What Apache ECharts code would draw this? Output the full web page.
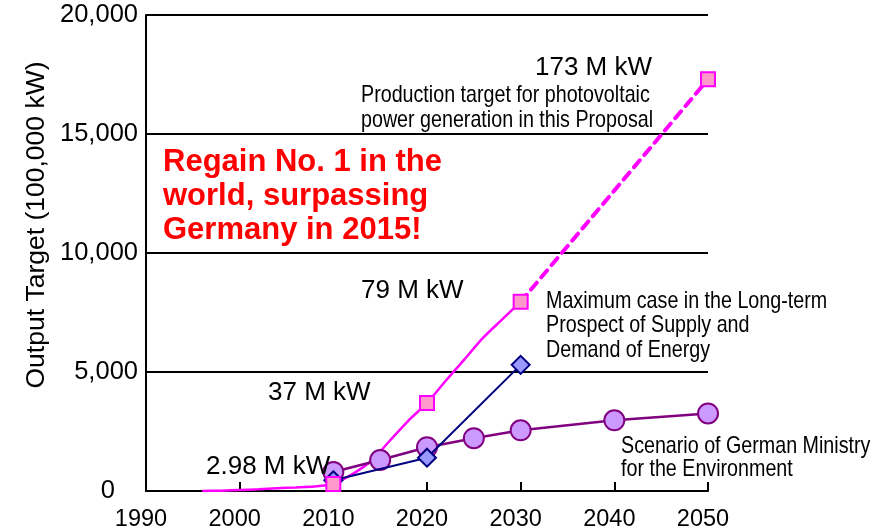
<!DOCTYPE html>
<html>
<head>
<meta charset="utf-8">
<script src="https://cdn.jsdelivr.net/npm/echarts@6.0.0/dist/echarts.min.js"></script>
<style>
  html, body { margin: 0; padding: 0; background: #fff; }
  #chart { width: 886px; height: 532px; }
</style>
</head>
<body>
<div id="chart"></div>
<script>
// x ticks / y ticks
const yearMin = 1990
const yearMax = 2050
const yearStep = 10
const outputMin = 0
const outputMax = 20000
const outputStep = 5000

// PV production target in this proposal (solid part, up to 2030)
const pvYears = [1996, 1998, 2000, 2002, 2004, 2006, 2008, 2009, 2010, 2012, 2014, 2016, 2018, 2020, 2022, 2024, 2026, 2028, 2030]
const pvValues = [0, 15, 40, 70, 115, 150, 190, 230, 298, 700, 1250, 2100, 2950, 3700, 4630, 5530, 6440, 7200, 7950]
// dashed extension 2030 -> 2050
const pvTargetYears = [2030, 2050]
const pvTargetValues = [7950, 17300]
// square markers
const pvMarkYears = [2010, 2020, 2030, 2050]
const pvMarkValues = [298, 3700, 7950, 17300]

// Maximum case, Long-term Prospect of Supply and Demand of Energy
const maxCaseYears = [2010, 2020, 2030]
const maxCaseValues = [450, 1400, 5300]

// Scenario of German Ministry for the Environment
const germanYears = [2010, 2015, 2020, 2025, 2030, 2040, 2050]
const germanValues = [800, 1300, 1840, 2220, 2550, 2970, 3260]

const pairs = (xs, ys) => xs.map((x, i) => [x, ys[i]])

const baseFont = 'Liberation Sans, Arial, sans-serif'
// no narrow face installed, so the condensed notes are squeezed with scaleX
const narrowScale = 0.82

const chart = echarts.init(document.getElementById('chart'))

const label = (text, x, y, opts = {}, extra = {}) => Object.assign({
  type: 'text',
  x: x,
  y: y,
  z: 100,
  style: Object.assign({
    text: text,
    fill: '#000',
    fontSize: 26,
    fontFamily: baseFont,
    textAlign: 'left',
    textVerticalAlign: 'middle'
  }, opts)
}, extra)

const option = {
  animation: false,
  backgroundColor: '#fff',
  grid: {
    left: 146,
    right: 178,
    top: 15,
    bottom: 39
  },
  xAxis: {
    type: 'value',
    min: yearMin,
    max: yearMax,
    interval: yearStep,
    axisLine: { lineStyle: { color: '#000', width: 2 } },
    axisTick: { inside: true, length: 9, lineStyle: { color: '#000', width: 2 } },
    axisLabel: {
      color: '#000',
      fontSize: 23.5,
      fontFamily: baseFont,
      margin: 17,
      padding: [0, 10, 0, 0],
      formatter: v => String(v)
    },
    splitLine: { show: false }
  },
  yAxis: {
    type: 'value',
    min: outputMin,
    max: outputMax,
    interval: outputStep,
    axisLine: { show: true, lineStyle: { color: '#000', width: 2 } },
    axisTick: { show: false },
    axisLabel: {
      color: '#000',
      fontSize: 25.5,
      fontFamily: baseFont,
      margin: 8,
      formatter: v => v === 0 ? '{zero|0}' : v.toLocaleString('en-US'),
      rich: {
        zero: { fontSize: 25.5, fontFamily: baseFont, color: '#000', padding: [0, 23, 0, 0] }
      }
    },
    splitLine: { show: true, lineStyle: { color: '#000', width: 2 } }
  },
  series: [
    {
      name: 'PV target',
      type: 'line',
      z: 2,
      data: pairs(pvYears, pvValues),
      smooth: 0.3,
      showSymbol: false,
      symbol: 'none',
      lineStyle: { color: '#FF00FF', width: 2.5 }
    },
    {
      name: 'PV target 2050',
      type: 'line',
      z: 2,
      data: pairs(pvTargetYears, pvTargetValues),
      symbol: 'none',
      lineStyle: { color: '#FF00FF', width: 4, type: [9, 7], cap: 'round' }
    },
    {
      name: 'German Ministry',
      type: 'line',
      z: 3,
      data: pairs(germanYears, germanValues),
      symbol: 'circle',
      symbolSize: 20,
      lineStyle: { color: '#800080', width: 2.5 },
      itemStyle: { color: '#CC99FF', borderColor: '#800080', borderWidth: 2 }
    },
    {
      name: 'Maximum case',
      type: 'line',
      z: 4,
      data: pairs(maxCaseYears, maxCaseValues),
      symbol: 'diamond',
      symbolSize: 18,
      lineStyle: { color: '#000080', width: 2 },
      itemStyle: { color: '#9999FF', borderColor: '#000080', borderWidth: 2 }
    },
    {
      name: 'PV marks',
      type: 'scatter',
      z: 5,
      data: pairs(pvMarkYears, pvMarkValues),
      symbol: 'rect',
      symbolSize: 14,
      itemStyle: { color: '#FF99CC', borderColor: '#FF00FF', borderWidth: 2, opacity: 1 }
    }
  ],
  graphic: [
    // y axis title, placed by hand because it sits above the axis middle
    label('Output Target (100,000 kW)', 37, 225, { textAlign: 'center', fontSize: 26.5 }, { rotation: Math.PI / 2 }),
    label('173 M kW', 652, 68, { textAlign: 'right' }),
    label('Production target for photovoltaic\npower generation in this Proposal', 361, 82.5, {
      fontSize: 24, lineHeight: 25, textVerticalAlign: 'top'
    }, { scaleX: narrowScale }),
    label('Regain No. 1 in the\nworld, surpassing\nGermany in 2015!', 163, 145, {
      fill: '#FF0000', fontWeight: 'bold', fontSize: 31, lineHeight: 34, textVerticalAlign: 'top'
    }),
    label('79 M kW', 361, 291),
    label('Maximum case in the Long-term\nProspect of Supply and\nDemand of Energy', 546, 288.75, {
      fontSize: 24, lineHeight: 24.5, textVerticalAlign: 'top'
    }, { scaleX: narrowScale }),
    label('37 M kW', 268, 393),
    label('2.98 M kW', 206, 467),
    label('Scenario of German Ministry\nfor the Environment', 621, 434.5, {
      fontSize: 24, lineHeight: 23, textVerticalAlign: 'top'
    }, { scaleX: narrowScale })
  ]
}

chart.setOption(option)
</script>
</body>
</html>
